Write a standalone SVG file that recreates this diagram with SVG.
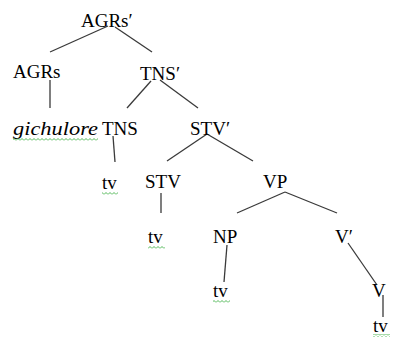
<svg xmlns="http://www.w3.org/2000/svg" width="393" height="337" viewBox="0 0 393 337">
<style>
text{font-family:'Liberation Serif','DejaVu Serif',serif;font-size:19px;fill:#000}
.it{font-style:italic}
#connectors line{stroke:#3a3a3a;stroke-width:1.3;fill:none}
.sq{fill:url(#squiggle)}
</style>
<defs>
<pattern id="squiggle" x="0" y="0" width="4" height="3" patternUnits="userSpaceOnUse">
<path d="M0 2.5 L2 0.5 L4 2.5" stroke="#3cb043" stroke-width="0.9" fill="none"/>
</pattern>
</defs>
<rect width="393" height="337" fill="#fff"/>
<g id="connectors">
<line x1="108" y1="26" x2="50" y2="52"/>
<line x1="115" y1="27" x2="152" y2="52"/>
<line x1="50" y1="80" x2="50" y2="108"/>
<line x1="151" y1="81" x2="127" y2="108"/>
<line x1="160" y1="80" x2="198" y2="108"/>
<line x1="113" y1="136" x2="115" y2="162"/>
<line x1="207" y1="134" x2="167" y2="161"/>
<line x1="207" y1="134" x2="253" y2="161"/>
<line x1="161" y1="193" x2="161" y2="213"/>
<line x1="285" y1="192" x2="237" y2="213"/>
<line x1="285" y1="192" x2="337" y2="213"/>
<line x1="227" y1="245" x2="224" y2="282"/>
<line x1="348" y1="243" x2="377" y2="285"/>
<line x1="383" y1="295" x2="383" y2="317"/>
</g>
<g id="n-agrs-bar"><text x="81" y="27">AGRs′</text></g>
<g id="n-agrs"><text x="13" y="78">AGRs</text></g>
<g id="n-tns-bar"><text x="140" y="80">TNS′</text></g>
<g id="n-gichulore"><text class="it" x="13" y="135" textLength="85" lengthAdjust="spacingAndGlyphs">gichulore</text><rect class="sq" x="13" y="138" width="85" height="3"/></g>
<g id="n-tns"><text x="102" y="135">TNS</text></g>
<g id="n-stv-bar"><text x="190" y="135">STV′</text></g>
<g id="n-tv1"><text x="102" y="189">tv</text><rect class="sq" x="102" y="192" width="16" height="3"/></g>
<g id="n-stv"><text x="145" y="188">STV</text></g>
<g id="n-vp"><text x="263" y="188">VP</text></g>
<g id="n-tv2"><text x="148" y="243">tv</text><rect class="sq" x="148" y="246" width="17" height="3"/></g>
<g id="n-np"><text x="213" y="243">NP</text></g>
<g id="n-v-bar"><text x="335" y="243">V′</text></g>
<g id="n-tv3"><text x="213" y="297">tv</text><rect class="sq" x="213" y="300" width="17" height="3"/></g>
<g id="n-v"><text x="372" y="297">V</text></g>
<g id="n-tv4"><text x="373" y="332">tv</text><rect class="sq" x="373" y="334" width="17" height="3"/></g>
</svg>
